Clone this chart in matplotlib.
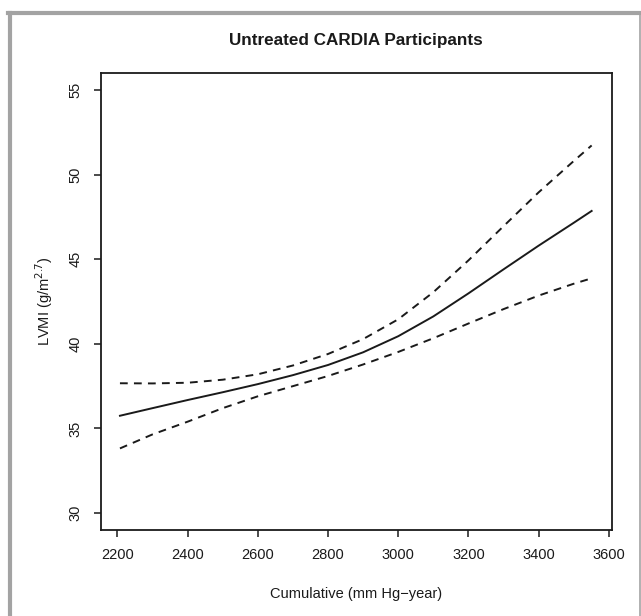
"""LVMI vs cumulative blood pressure, untreated CARDIA participants."""
import matplotlib
matplotlib.use('Agg')
import matplotlib.pyplot as plt
from matplotlib.lines import Line2D

# values
cum_bp = [2207, 2300, 2400, 2500, 2600, 2700, 2800, 2900, 3000, 3100, 3200, 3300, 3400, 3500, 3551]
lvmi_fit = [35.75, 36.2, 36.68, 37.14, 37.62, 38.15, 38.75, 39.5, 40.45, 41.62, 42.98, 44.4, 45.8, 47.15, 47.85]
lvmi_upper = [37.67, 37.66, 37.7, 37.88, 38.2, 38.72, 39.4, 40.28, 41.45, 43.05, 44.93, 46.95, 48.95, 50.8, 51.72]
lvmi_lower = [33.82, 34.65, 35.4, 36.2, 36.9, 37.5, 38.1, 38.78, 39.52, 40.33, 41.2, 42.05, 42.85, 43.55, 43.87]

x_ticks = [2200, 2400, 2600, 2800, 3000, 3200, 3400, 3600]
y_ticks = [30, 35, 40, 45, 50, 55]

plt.rcParams['font.family'] = ['Liberation Sans', 'DejaVu Sans']

fig = plt.figure(figsize = (6.41, 6.16), dpi = 100)
ax = fig.add_axes([101 / 641, 1 - 530 / 616, 511 / 641, 457 / 616])

ax.plot(cum_bp, lvmi_fit, color = '#1a1a1a', lw = 1.4)
ax.plot(cum_bp, lvmi_upper, color = '#1a1a1a', lw = 1.4, linestyle = (0, (4, 3.2)))
ax.plot(cum_bp, lvmi_lower, color = '#1a1a1a', lw = 1.4, linestyle = (0, (4, 3.2)))

ax.set_xlim(2153, 3609)
ax.set_ylim(29, 56)
ax.set_xticks(x_ticks)
ax.set_yticks(y_ticks)
ax.set_yticklabels([str(v) for v in y_ticks], rotation = 90, va = 'center')
ax.tick_params(direction = 'out', length = 5, width = 1.1, labelsize = 10.5, colors = '#1a1a1a', pad = 8)
for sp in ax.spines.values():
    sp.set_linewidth(1.3)
    sp.set_color('#1a1a1a')

ax.set_xlabel('Cumulative (mm Hg\u2212year)', fontsize = 10.5, labelpad = 18, color = '#1a1a1a')
ax.set_ylabel('LVMI (g/m$^{2.7}$)', fontsize = 10.5, labelpad = 10, color = '#1a1a1a')
fig.text(355.5 / 641, 1 - 40 / 616, 'Untreated CARDIA Participants', ha = 'center', va = 'center',
         fontsize = 12.3, fontweight = 'bold', color = '#1a1a1a')

# grey frame round the figure
fig.add_artist(Line2D([10 / 641, 10 / 641], [0, 1 - 13 / 616], transform = fig.transFigure, color = '#a3a3a3', lw = 3))
fig.add_artist(Line2D([8 / 641, 640 / 641], [1 - 13 / 616, 1 - 13 / 616], transform = fig.transFigure, color = '#a3a3a3', lw = 3))
fig.add_artist(Line2D([639.5 / 641, 639.5 / 641], [0, 1 - 13 / 616], transform = fig.transFigure, color = '#a3a3a3', lw = 1.2))

fig.savefig('out.png', dpi = 100)
